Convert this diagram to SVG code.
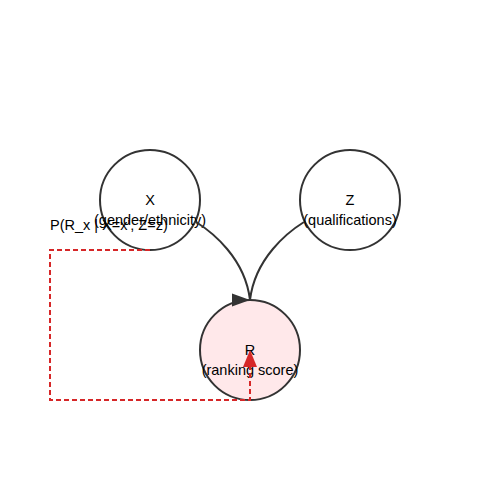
<svg xmlns="http://www.w3.org/2000/svg" width="500" height="500" viewBox="0 0 500 500">
<style>
.node{stroke:#333;stroke-width:2;fill:#fff}
.lbl{font-family:"Liberation Sans",Arial,sans-serif;font-size:14.5px;fill:#000;text-anchor:middle;dominant-baseline:central}
.edge{fill:none;stroke:#333;stroke-width:2}
.cf{fill:none;stroke:#d62728;stroke-width:2;stroke-dasharray:5,3}
</style>
<rect width="500" height="500" fill="#fff"/>
<g id="X"><circle class="node" cx="150" cy="200" r="50"/><text class="lbl" x="150" y="200">X</text><text class="lbl" x="150" y="220">(gender/ethnicity)</text></g>
<g id="Z"><circle class="node" cx="350" cy="200" r="50"/><text class="lbl" x="350" y="200">Z</text><text class="lbl" x="350" y="220">(qualifications)</text></g>
<g id="R"><circle class="node" cx="250" cy="350" r="50" style="fill:#ffe8ea"/><text class="lbl" x="250" y="350">R</text><text class="lbl" x="250" y="370">(ranking score)</text></g>
<g id="connectors">
<path class="edge" d="M196,222 C212,232 245,258 250,300"/>
<path class="edge" d="M304,222 C288,232 255,258 250,300"/>
<polygon points="250,300 232,293.5 232,306.5" fill="#333"/>
</g>
<g id="counterfactual">
<path class="cf" d="M150,250 H50 V400 H250 V367"/>
<polygon points="250,350 243,367 257,367" fill="#d62728"/>
<text x="50" y="230" style="font-family:'Liberation Sans',Arial,sans-serif;font-size:14.5px;fill:#000">P(R_x | X=x', Z=z)</text>
</g>
</svg>
